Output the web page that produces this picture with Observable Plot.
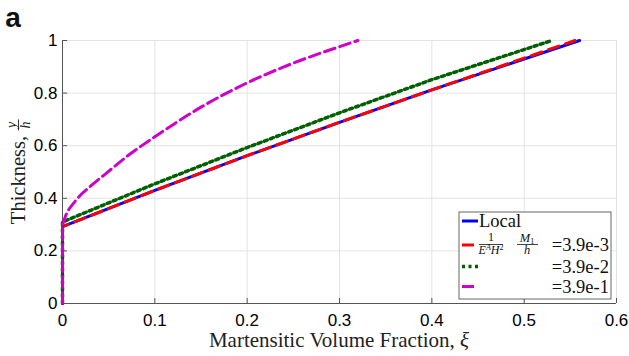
<!DOCTYPE html>
<html><head><meta charset="utf-8">
<script src="https://cdn.jsdelivr.net/npm/d3@7"></script>
<script src="https://cdn.jsdelivr.net/npm/@observablehq/plot@0.6"></script>
<style>
body{margin:0;background:#fff}
#chart{position:relative;width:629px;height:356px}
</style>
</head><body><div id="chart"></div>
<script>
// ---- data ----
const localXi = [0, 0, 0.1, 0.2, 0.3, 0.4, 0.56];
const localY  = [0, 0.292, 0.43, 0.562, 0.689, 0.812, 1.0];
const m3Xi = [0, 0, 0.1, 0.2, 0.3, 0.4, 0.555];
const m3Y  = [0, 0.292, 0.43, 0.562, 0.689, 0.812, 1.0];
const m2Xi = [0, 0, 0.1, 0.2, 0.3, 0.4, 0.53];
const m2Y  = [0, 0.31, 0.455, 0.593, 0.725, 0.851, 1.0];
const m1Xi = [0, 0, 0.003, 0.014, 0.03, 0.047, 0.07, 0.1, 0.15, 0.2, 0.25, 0.3, 0.32];
const m1Y  = [0, 0.3, 0.33, 0.39, 0.445, 0.494, 0.56, 0.634, 0.7465, 0.839, 0.914, 0.9765, 1.0];
const legendValues = ["=3.9e-3", "=3.9e-2", "=3.9e-1"];
const xTicks = [0, 0.1, 0.2, 0.3, 0.4, 0.5, 0.6];
const yTicks = [0, 0.2, 0.4, 0.6, 0.8, 1];

const rows = (xs, ys) => xs.map((x, i) => ({xi: x, y: ys[i]}));
const m1Rows = rows(m1Xi, m1Y);
const C = {local: "#0000ff", m3: "#ff0000", m2: "#006000", m1: "#d000c8"};
const serif = "'Liberation Serif','DejaVu Serif',serif";

const plot = Plot.plot({
  width: 629, height: 356,
  marginLeft: 62, marginRight: 13, marginTop: 40, marginBottom: 53,
  style: {fontFamily: "'Liberation Sans',Arial,sans-serif", fontSize: "16.5px", background: "#fff", overflow: "visible"},
  x: {domain: [0, 0.6]},
  y: {domain: [0, 1]},
  marks: [
    Plot.gridX(xTicks, {stroke: "#e3e3e3", strokeOpacity: 1}),
    Plot.gridY(yTicks, {stroke: "#e3e3e3", strokeOpacity: 1}),
    Plot.ruleX(xTicks, {y1: 0, y2: 0.019, stroke: "#555"}),
    Plot.ruleY(yTicks, {x1: 0, x2: 0.0055, stroke: "#555"}),
    Plot.ruleX([0], {stroke: "#555"}),
    Plot.ruleY([0], {stroke: "#555"}),
    Plot.axisX(xTicks, {tickSize: 0, tickPadding: 10, label: null, tickFormat: d => String(d), fontSize: 17}),
    Plot.axisY(yTicks, {tickSize: 0, tickPadding: 5, label: null, tickFormat: d => String(d), fontSize: 17}),
    Plot.line(rows(localXi, localY), {x: "xi", y: "y", stroke: C.local, strokeWidth: 3}),
    Plot.line(rows(m3Xi, m3Y), {x: "xi", y: "y", stroke: C.m3, strokeWidth: 3, strokeDasharray: "11,7"}),
    Plot.line(rows(m2Xi, m2Y), {x: "xi", y: "y", stroke: C.m2, strokeWidth: 3.5, strokeDasharray: "3,3.5"}),
    Plot.line(m1Rows.slice(0, 2), {x: "xi", y: "y", stroke: C.m1, strokeWidth: 3, strokeDasharray: "11,5"}),
    Plot.line(m1Rows.slice(1), {x: "xi", y: "y", stroke: C.m1, strokeWidth: 3, strokeDasharray: "11,5", curve: "monotone-x"})
  ]
});
document.getElementById("chart").appendChild(plot);

const svg = d3.select(plot);
// panel letter
svg.append("text").attr("x", 13).attr("y", 27).attr("font-family", "'Liberation Sans',Arial,sans-serif")
  .attr("font-weight", "bold").attr("font-size", 28).attr("fill", "#111").text("a");

// x label
const xl = svg.append("text").attr("x", 339).attr("y", 347).attr("text-anchor", "middle")
  .attr("font-family", serif).attr("font-size", 21).attr("fill", "#222");
xl.append("tspan").text("Martensitic Volume Fraction, ");
xl.append("tspan").attr("font-style", "italic").text("ξ");

// y label (rotated)
const yg = svg.append("g").attr("transform", "translate(25,171) rotate(-90)");
const yt = yg.append("text").attr("font-family", serif).attr("font-size", 20.5).attr("fill", "#222")
  .attr("text-anchor", "start").text("Thickness,");
const tw = yt.node().getComputedTextLength();
const total = tw + 18;
const x0 = -total / 2;
yt.attr("x", x0).attr("y", 0);
const fx = x0 + tw + 11;
yg.append("text").attr("x", fx).attr("y", -9.5).attr("text-anchor", "middle").attr("font-family", serif)
  .attr("font-style", "italic").attr("font-size", 14).attr("fill", "#222").text("y");
yg.append("line").attr("x1", fx - 5.5).attr("x2", fx + 5.5).attr("y1", -6.5).attr("y2", -6.5).attr("stroke", "#222").attr("stroke-width", 0.9);
yg.append("text").attr("x", fx).attr("y", 5).attr("text-anchor", "middle").attr("font-family", serif)
  .attr("font-style", "italic").attr("font-size", 14).attr("fill", "#222").text("h");

// legend
const lg = svg.append("g");
lg.append("rect").attr("x", 459).attr("y", 212).attr("width", 152).attr("height", 87)
  .attr("fill", "#fff").attr("stroke", "#666").attr("stroke-width", 1);
const sample = (y, color, dash, x2, w) => lg.append("line").attr("x1", 462).attr("x2", x2).attr("y1", y).attr("y2", y)
  .attr("stroke", color).attr("stroke-width", w).attr("stroke-dasharray", dash);
sample(221, C.local, null, 478, 3);
sample(245, C.m3, null, 474, 3);
sample(266.5, C.m2, "3,3.5", 478, 3.5);
sample(286.5, C.m1, null, 474, 3);
const ltxt = (x, y, s, anchor, size, italic) => lg.append("text").attr("x", x).attr("y", y)
  .attr("text-anchor", anchor || "start").attr("font-family", serif).attr("font-size", size || 18.5)
  .attr("font-style", italic ? "italic" : "normal").attr("fill", "#111").text(s);
ltxt(479, 227, "Local");
// fraction 1/(E^A H^2)
ltxt(491, 241, "1", "middle", 12);
lg.append("line").attr("x1", 479).attr("x2", 503).attr("y1", 244.5).attr("y2", 244.5).attr("stroke", "#111").attr("stroke-width", 0.8);
const den = lg.append("text").attr("x", 491).attr("y", 254).attr("text-anchor", "middle").attr("font-family", serif)
  .attr("font-size", 12).attr("font-style", "italic").attr("fill", "#111");
den.append("tspan").text("E");
den.append("tspan").attr("font-size", 8).attr("dy", -4.5).text("A");
den.append("tspan").attr("dy", 4.5).text("H");
den.append("tspan").attr("font-size", 8).attr("dy", -4.5).attr("font-style", "normal").text("2");
// fraction M1/h
const num = lg.append("text").attr("x", 527).attr("y", 241.5).attr("text-anchor", "middle").attr("font-family", serif)
  .attr("font-size", 12.5).attr("fill", "#111");
num.append("tspan").attr("font-style", "italic").text("M");
num.append("tspan").attr("font-size", 8).attr("dy", 2).text("1");
lg.append("line").attr("x1", 517).attr("x2", 538).attr("y1", 244.5).attr("y2", 244.5).attr("stroke", "#111").attr("stroke-width", 0.8);
ltxt(527, 254, "h", "middle", 12.5, true);
ltxt(609, 250.5, legendValues[0], "end");
ltxt(609, 272.5, legendValues[1], "end");
ltxt(609, 292.5, legendValues[2], "end");
</script>
</body></html>
